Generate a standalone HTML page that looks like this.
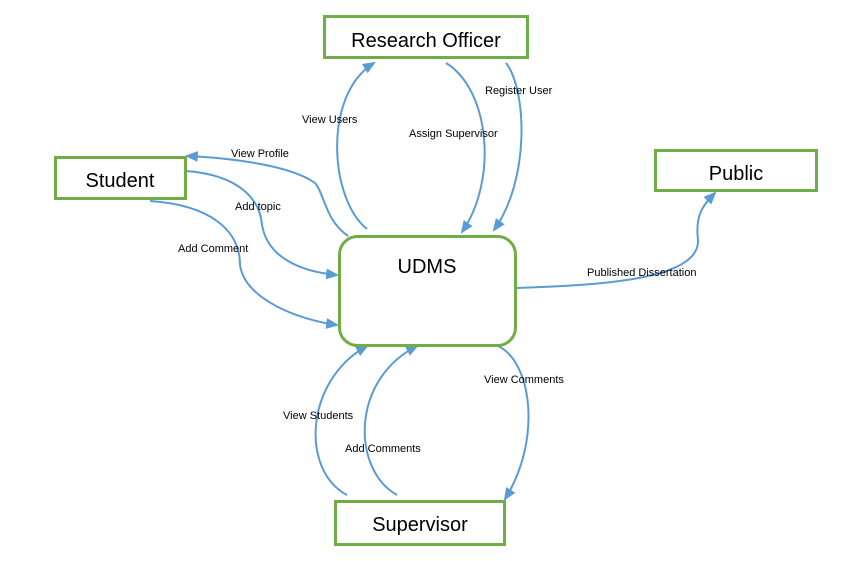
<!DOCTYPE html>
<html><head><style>
html,body{margin:0;padding:0;background:#fff;}
svg{display:block;}
text{font-family:"Liberation Sans",sans-serif;}
</style></head><body>
<svg width="851" height="561" viewBox="0 0 851 561">
<defs>
<marker id="a" viewBox="0 0 12 10" refX="10" refY="5" markerWidth="13" markerHeight="11" orient="auto" markerUnits="userSpaceOnUse">
<path d="M0,0 L12,5 L0,10 z" fill="#5b9bd5"/>
</marker>
</defs>
<g fill="none" stroke="#5b9bd5" stroke-width="2">
<path d="M367,229 C330,200 322,95 374,63" marker-end="url(#a)"/>
<path d="M446,63 C490,90 498,180 462,232" marker-end="url(#a)"/>
<path d="M506,63 C527,90 530,180 494,230" marker-end="url(#a)"/>
<path d="M348,236 C325,220 325,195 315,183 C290,165 230,158 187,156" marker-end="url(#a)"/>
<path d="M186,171 C240,175 260,200 262,225 C268,260 305,272 337,275" marker-end="url(#a)"/>
<path d="M150,201 C210,205 240,230 240,265 C245,300 300,320 337,325" marker-end="url(#a)"/>
<path d="M517,288 C600,285 700,280 698,240 C695,215 703,205 715,193" marker-end="url(#a)"/>
<path d="M347,495 C300,470 305,380 367,346" marker-end="url(#a)"/>
<path d="M397,495 C352,470 350,380 417,346" marker-end="url(#a)"/>
<path d="M498,346 C532,362 542,440 505,499" marker-end="url(#a)"/>
</g>
<g fill="#fff" stroke="#70ad47" stroke-width="3">
<rect x="324.5" y="16.5" width="203" height="41"/>
<rect x="55.5" y="157.5" width="130" height="41"/>
<rect x="655.5" y="150.5" width="161" height="40"/>
<rect x="339.5" y="236.5" width="176" height="109" rx="18"/>
<rect x="335.5" y="501.5" width="169" height="43"/>
</g>
<g font-size="20" fill="#000" text-anchor="middle">
<text x="426" y="47">Research Officer</text>
<text x="120" y="187">Student</text>
<text x="736" y="180">Public</text>
<text x="427" y="273">UDMS</text>
<text x="420" y="531">Supervisor</text>
</g>
<g font-size="11" fill="#000">
<text x="302" y="123">View Users</text>
<text x="409" y="137">Assign Supervisor</text>
<text x="485" y="94">Register User</text>
<text x="231" y="157">View Profile</text>
<text x="235" y="210">Add topic</text>
<text x="178" y="252">Add Comment</text>
<text x="587" y="276">Published Dissertation</text>
<text x="484" y="383">View Comments</text>
<text x="283" y="419">View Students</text>
<text x="345" y="452">Add Comments</text>
</g>
</svg>
</body></html>
